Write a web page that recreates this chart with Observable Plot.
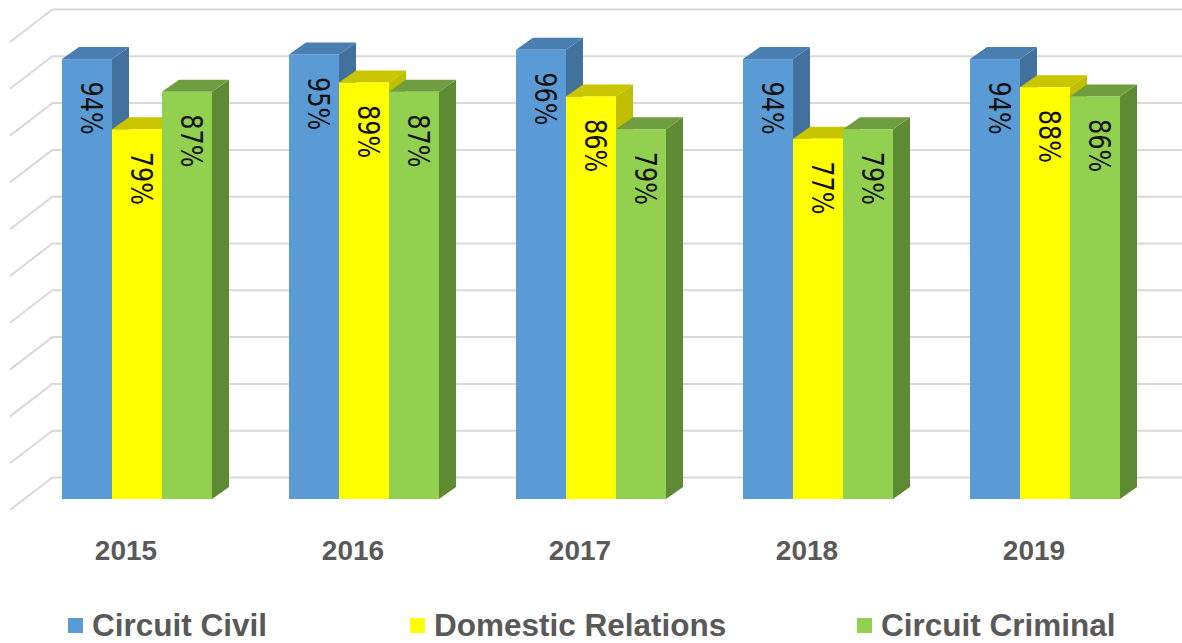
<!DOCTYPE html>
<html><head><meta charset="utf-8">
<script src="https://cdn.jsdelivr.net/npm/d3@7"></script>
<script src="https://cdn.jsdelivr.net/npm/@observablehq/plot@0.6"></script>
<style>
body{margin:0;background:#fff;width:1182px;height:643px;overflow:hidden;font-family:"Liberation Sans",Arial,sans-serif}
#legend{position:relative;height:43px}
.item{position:absolute;top:4px;height:43px;display:flex;align-items:center;font-weight:bold;font-size:31.5px;color:#595959;white-space:nowrap}
.sw{width:15px;height:15px;margin-right:9px}
</style></head><body><div id="chart"></div><div id="legend"></div>
<script>
const years = ["2015","2016","2017","2018","2019"];
const seriesNames = ["Circuit Civil","Domestic Relations","Circuit Criminal"];
const circuitCivil = [94,95,96,94,94];
const domesticRelations = [79,89,86,77,88];
const circuitCriminal = [87,87,79,79,86];
const gridTicks = [0,10,20,30,40,50,60,70,80,90,100];
const frontColors = ["#5B9BD5","#FFFF00","#92D050"];
const sideColors = ["#41719C","#BFBF00","#5E8A33"];
const topColors = ["#4A7EB0","#C9C500","#6F9D40"];
const legendLeft = [68,410,857];

const seriesValues = [circuitCivil, domesticRelations, circuitCriminal];
const rows = seriesNames.map((s,k)=>years.map((y,i)=>({year:y, series:s, value:seriesValues[k][i]})));

const DX = 17, DY = -12;
function extrude(side, top){
  return (index, scales, values, dimensions, context, next) => {
    const g = next(index, scales, values, dimensions, context);
    d3.select(g).selectAll("rect").each(function(){
      const x=+this.getAttribute("x"), y=+this.getAttribute("y"), w=+this.getAttribute("width"), h=+this.getAttribute("height");
      const parent = this.parentNode;
      const sideP = document.createElementNS("http://www.w3.org/2000/svg","polygon");
      sideP.setAttribute("points", `${x+w},${y} ${x+w+DX},${y+DY} ${x+w+DX},${y+h+DY} ${x+w},${y+h}`);
      sideP.setAttribute("fill", side);
      const topP = document.createElementNS("http://www.w3.org/2000/svg","polygon");
      topP.setAttribute("points", `${x},${y} ${x+DX},${y+DY} ${x+w+DX},${y+DY} ${x+w},${y}`);
      topP.setAttribute("fill", top);
      parent.insertBefore(sideP, this);
      parent.insertBefore(topP, this);
    });
    return g;
  };
}

const condense = (index, scales, values, dimensions, context, next) => {
  const g = next(index, scales, values, dimensions, context);
  d3.select(g).selectAll("text").each(function(){
    const t = this.getAttribute("transform") || "";
    this.setAttribute("transform", t + " scale(0.86,1)");
  });
  return g;
};

const diag = (index, scales, values, dimensions) => {
  const g = d3.create("svg:g");
  for (const i of index) {
    const y = values.y[i];
    g.append("line").attr("x1", dimensions.marginLeft-14).attr("y1", y+11)
      .attr("x2", dimensions.marginLeft+29).attr("y2", y-22)
      .attr("stroke","#D9D9D9").attr("stroke-width",2);
  }
  return g.node();
};

const barMarks = rows.map((data,k)=>Plot.barY(data,{x:"year", y:"value", fill:frontColors[k],
  insetLeft:38+50*k, insetRight:139-50*k, render: extrude(sideColors[k], topColors[k])}));
const labelMarks = rows.map((data,k)=>Plot.text(data,{x:"year", y:"value", text:d=>d.value+"%",
  rotate:90, textAnchor:"start", lineAnchor:"middle", dx:(k-1)*50+3, dy:22,
  fontSize:31, fontFamily:"DejaVu Sans Condensed, DejaVu Sans, sans-serif", fill:"#111", render: condense}));

const plot = Plot.plot({
  width:1182, height:600, marginLeft:24, marginRight:23, marginTop:31, marginBottom:101,
  style:{background:"#fff", color:"#595959", fontFamily:"Liberation Sans, Arial, sans-serif", overflow:"visible"},
  x:{domain:years, padding:0},
  y:{domain:[0,100], axis:null},
  marks:[
    Plot.ruleY(gridTicks, {stroke:"#D9D9D9", strokeWidth:2, dx:29, dy:-22}),
    Plot.ruleY(gridTicks, {y:d=>d, render: diag}),
    ...barMarks,
    ...labelMarks,
    Plot.axisX({tickSize:0, tickPadding:41, dx:-12, fontSize:28, fontWeight:"bold", label:null, fill:"#595959"})
  ]
});
document.getElementById("chart").appendChild(plot);

const legend = d3.select("#legend");
seriesNames.forEach((s,k)=>{
  const it = legend.append("div").attr("class","item").style("left", legendLeft[k]+"px");
  it.append("div").attr("class","sw").style("background", frontColors[k]);
  it.append("span").text(s);
});
</script></body></html>
